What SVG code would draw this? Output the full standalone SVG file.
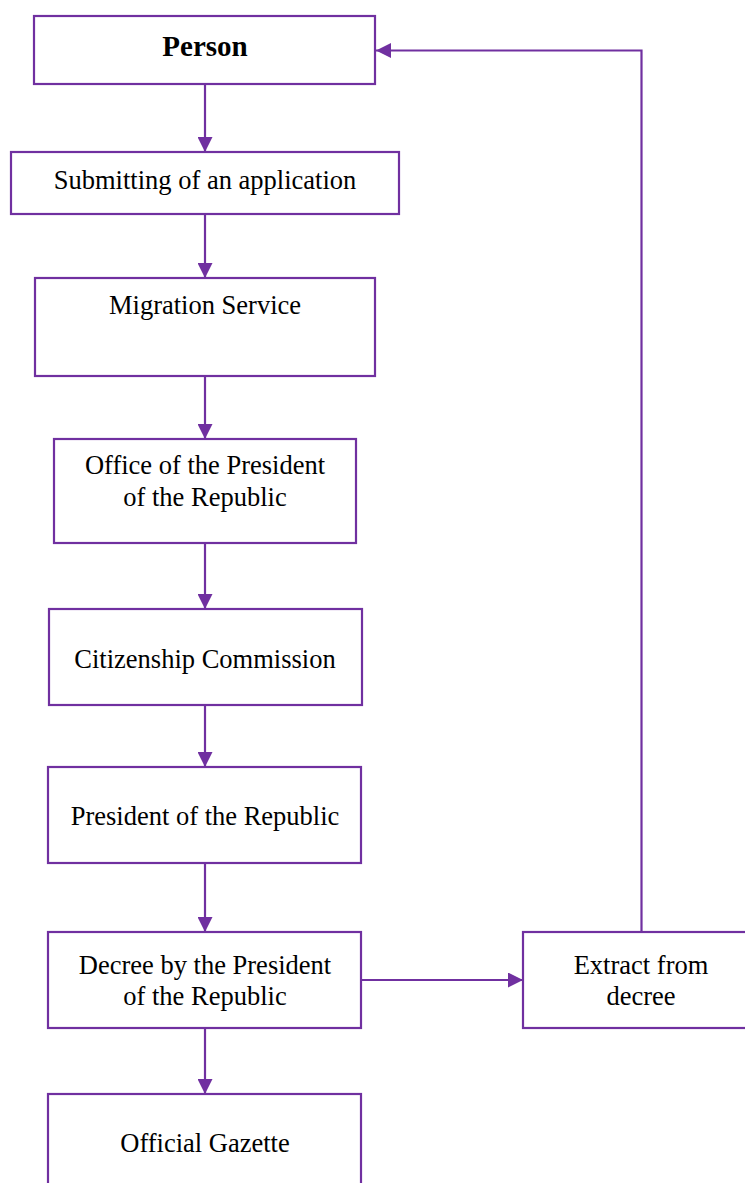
<svg xmlns="http://www.w3.org/2000/svg" width="745" height="1183" viewBox="0 0 745 1183">
<style>
.box{fill:#fff;stroke:#7030A0;stroke-width:2.2}
.t{font-family:"Liberation Serif","Times New Roman",serif;font-size:26.5px;fill:#000;text-anchor:middle}
.b{font-weight:bold;font-size:29px}
.c{fill:none;stroke:#7030A0;stroke-width:2.2}
</style>
<defs>
<marker id="ah" markerWidth="15" markerHeight="15" viewBox="0 0 15 15" refX="15" refY="7.5" orient="auto" markerUnits="userSpaceOnUse">
<path d="M0,0 L15,7.5 L0,15 Z" fill="#7030A0"/>
</marker>
</defs>
<g id="connectors">
<path class="c" d="M205,84 V152" marker-end="url(#ah)"/>
<path class="c" d="M205,214 V278" marker-end="url(#ah)"/>
<path class="c" d="M205,376 V439" marker-end="url(#ah)"/>
<path class="c" d="M205,543 V609" marker-end="url(#ah)"/>
<path class="c" d="M205,705 V767" marker-end="url(#ah)"/>
<path class="c" d="M205,863 V932" marker-end="url(#ah)"/>
<path class="c" d="M205,1028 V1094" marker-end="url(#ah)"/>
<path class="c" d="M361,980 H523" marker-end="url(#ah)"/>
<path class="c" d="M641.5,932 V50.5 H376" marker-end="url(#ah)"/>
</g>
<g id="person"><rect class="box" x="34" y="16" width="341" height="68"/><text class="t b" x="205" y="56">Person</text></g>
<g id="submitting"><rect class="box" x="11" y="152" width="388" height="62"/><text class="t" x="205" y="188.5">Submitting of an application</text></g>
<g id="migration"><rect class="box" x="35" y="278" width="340" height="98"/><text class="t" x="205" y="314">Migration Service</text></g>
<g id="office"><rect class="box" x="54" y="439" width="302" height="104"/><text class="t" x="205" y="473.5">Office of the President</text><text class="t" x="205" y="506">of the Republic</text></g>
<g id="citizenship"><rect class="box" x="49" y="609" width="313" height="96"/><text class="t" x="205" y="667.5">Citizenship Commission</text></g>
<g id="president"><rect class="box" x="48" y="767" width="313" height="96"/><text class="t" x="205" y="825">President of the Republic</text></g>
<g id="decree"><rect class="box" x="48" y="932" width="313" height="96"/><text class="t" x="205" y="974">Decree by the President</text><text class="t" x="205" y="1004.5">of the Republic</text></g>
<g id="extract"><rect class="box" x="523" y="932" width="237" height="96"/><text class="t" x="641" y="974">Extract from</text><text class="t" x="641" y="1004.5">decree</text></g>
<g id="gazette"><rect class="box" x="48" y="1094" width="313" height="100"/><text class="t" x="205" y="1152">Official Gazette</text></g>
</svg>
